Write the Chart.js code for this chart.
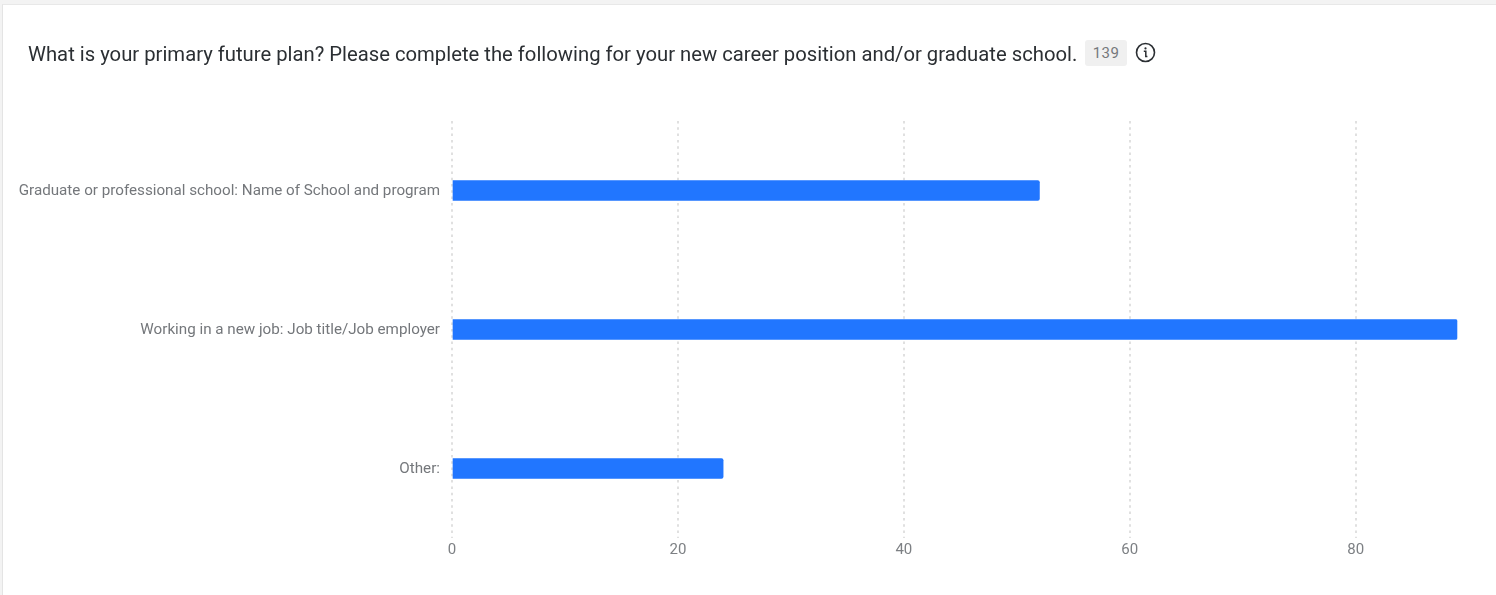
<!DOCTYPE html>
<html>
<head>
<meta charset="utf-8">
<script src="https://cdn.jsdelivr.net/npm/chart.js@4"></script>
<style>
  html, body { margin: 0; padding: 0; background: #f3f3f3; overflow: hidden; }
  #card { position: absolute; left: 2px; top: 4px; width: 1494px; height: 591px; background: #fff; border-left: 1px solid #e4e4e4; border-top: 1px solid #e8e8e8; box-sizing: border-box; }
  #title { position: absolute; left: 28px; top: 41px; font: 20.25px/26px Roboto, sans-serif; color: #2b2f33; white-space: nowrap; }
  #count { position: absolute; left: 1085px; top: 40px; width: 42px; height: 26px; text-align: center; background: #f0f0f0; border-radius: 3px; font: 15px/26px Roboto, sans-serif; letter-spacing: 0.4px; color: #75787c; }
  #info { position: absolute; left: 1135px; top: 42px; }
  #myChart { position: absolute; left: 0; top: 0; }
</style>
</head>
<body>
<div id="card"></div>
<canvas id="myChart" width="1496" height="595"></canvas>
<div id="title">What is your primary future plan? Please complete the following for your new career position and/or graduate school.</div>
<div id="count">139</div>
<svg id="info" width="21" height="21" viewBox="0 0 21 21">
  <circle cx="10.5" cy="10.5" r="9" fill="none" stroke="#2b2f33" stroke-width="1.6"/>
  <circle cx="10.5" cy="6.4" r="1.1" fill="#2b2f33"/>
  <path d="M8.8 9.3h2v5.2h1.6" fill="none" stroke="#2b2f33" stroke-width="1.5"/>
</svg>
<script>
var categories = [
  'Graduate or professional school: Name of School and program',
  'Working in a new job: Job title/Job employer',
  'Other:'
];
var responses = [52, 89, 24];
var xTicks = [0, 20, 40, 60, 80];

Chart.defaults.font.family = 'Roboto, sans-serif';

const ctx = document.getElementById('myChart').getContext('2d');
const myChart = new Chart(ctx, {
  type: 'bar',
  data: {
    labels: categories,
    datasets: [{
      data: responses,
      backgroundColor: '#2176ff',
      barThickness: 20,
      borderRadius: { topRight: 2, bottomRight: 2 },
      borderSkipped: false
    }]
  },
  options: {
    indexAxis: 'y',
    responsive: false,
    animation: false,
    layout: { padding: { top: 121, right: 38.6, bottom: 0, left: 0 } },
    plugins: { legend: { display: false }, tooltip: { enabled: false } },
    scales: {
      x: {
        min: 0,
        max: 89,
        afterBuildTicks: function (axis) {
          axis.ticks = xTicks.map(function (v) { return { value: v }; });
        },
        afterFit: function (axis) { axis.height = 57; },
        grid: { color: '#e0e0e0', lineWidth: 2, drawTicks: false },
        border: { display: false, dash: [2.5, 3.8] },
        ticks: { color: '#7d8084', font: { size: 15 }, padding: 3, maxRotation: 0 }
      },
      y: {
        afterFit: function (axis) { axis.width = 452; },
        grid: { display: false },
        border: { display: false },
        ticks: { color: '#74777b', font: { size: 15.2 }, padding: 4, labelOffset: 1 }
      }
    }
  }
});
</script>
</body>
</html>
